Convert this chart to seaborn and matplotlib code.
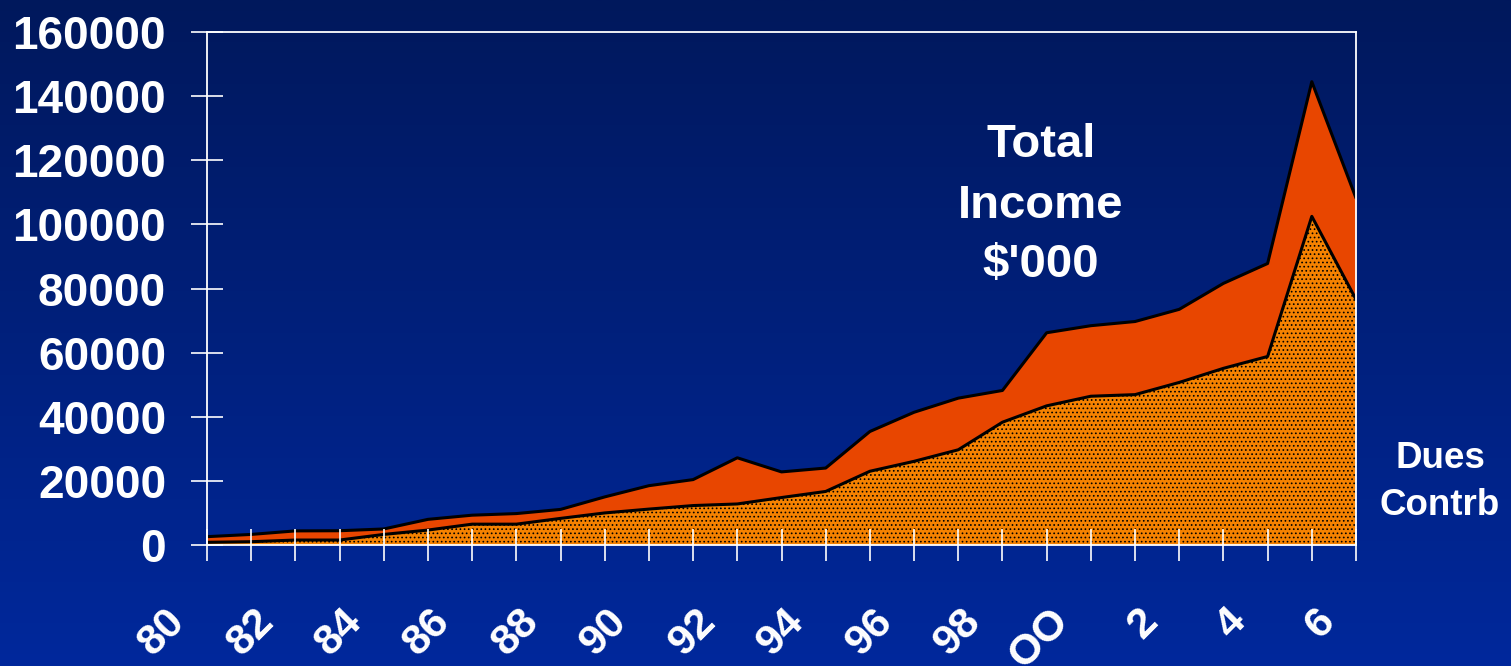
import numpy as np
import pandas as pd
import seaborn as sns
import matplotlib
matplotlib.use('Agg')
from matplotlib import pyplot as plt
from matplotlib import transforms
from matplotlib.colors import LinearSegmentedColormap

# Income by year, $'000
years = list(range(1980, 2007))
dues = [840, 1030, 1550, 1550, 3300, 4660, 6500, 6500, 8300, 10000,
        11200, 12300, 12800, 14800, 16700, 23000, 26100, 29700, 38300, 43400,
        46400, 46900, 50700, 55100, 58800, 102500, 76600]
contrb = [1760, 2270, 2850, 2900, 1700, 3340, 2800, 3300, 2800, 5000,
          7300, 8100, 14400, 8000, 7300, 12400, 15300, 16100, 9900, 22800,
          22000, 22800, 22800, 26500, 29000, 42000, 31600]
year_labels = ['80', '', '82', '', '84', '', '86', '', '88', '', '90', '',
               '92', '', '94', '', '96', '', '98', '', 'OO', '', '2', '',
               '4', '', '6']
y_ticks = [0, 20000, 40000, 60000, 80000, 100000, 120000, 140000, 160000]
title_lines = ['Total', 'Income', "$'000"]
series_names = ['Dues', 'Contrb']

income = pd.DataFrame({'year': years, 'Dues': dues, 'Contrb': contrb})
income['Total'] = income['Dues'] + income['Contrb']

sns.set_style('white')
plt.rcParams['font.family'] = ['Liberation Sans', 'DejaVu Sans']
plt.rcParams['font.weight'] = 'bold'
plt.rcParams['hatch.linewidth'] = 0.7

W, H = 1511, 666
fig = plt.figure(figsize=(W / 100, H / 100), dpi=100)

# background gradient, dark navy on top to blue at the bottom
bg = fig.add_axes([0, 0, 1, 1], zorder=0)
grad = np.linspace(0, 1, 256).reshape(-1, 1)
cmap = LinearSegmentedColormap.from_list('bg', ['#00185C', '#00289C'])
bg.imshow(grad, aspect='auto', cmap=cmap, extent=[0, 1, 0, 1])
bg.axis('off')

ax = fig.add_axes([207 / W, 1 - 545 / H, (1356 - 207) / W, (545 - 32) / H], zorder=1)
ax.patch.set_alpha(0)

ax.fill_between(income['year'], 0, income['Dues'], facecolor='#F58200',
                edgecolor='black', hatch='....', linewidth=0)
ax.fill_between(income['year'], income['Dues'], income['Total'],
                facecolor='#E84600', linewidth=0)
sns.lineplot(data=income, x='year', y='Dues', color='black', lw=2.2, ax=ax)
sns.lineplot(data=income, x='year', y='Total', color='black', lw=2.2, ax=ax)

ax.set_xlim(1980, 2006)
ax.set_ylim(0, 160000)
ax.set_xlabel('')
ax.set_ylabel('')
ax.set_axisbelow(False)
for s in ax.spines.values():
    s.set_visible(True)
    s.set_color('white')
    s.set_linewidth(1.3)

ax.set_xticks(years, year_labels)
ax.set_yticks(y_ticks, [str(v) for v in y_ticks])
ax.tick_params(bottom=True, left=True, direction='inout', length=23, width=1.2,
               color='white', labelcolor='white')
ax.tick_params(axis='y', pad=18, labelsize=33)
ax.tick_params(axis='x', pad=39, labelsize=31, labelrotation=45)
for lbl in ax.get_xticklabels():
    lbl.set_ha('right')
    lbl.set_va('center')
    lbl.set_rotation_mode('anchor')
    lbl.set_transform(lbl.get_transform() +
                      transforms.ScaledTranslation(-0.28, 0, fig.dpi_scale_trans))

# title text inside the plot
for line, base in zip(title_lines, [157, 218, 277]):
    fig.text(1041 / W, 1 - base / H, line, ha='center', va='baseline',
             fontsize=34, color='white')

# series names on the right
for name, base in zip(series_names, [468, 515]):
    fig.text(1440 / W, 1 - base / H, name, ha='center', va='baseline',
             fontsize=26.5, color='white')

plt.savefig('out.png', dpi=100)
